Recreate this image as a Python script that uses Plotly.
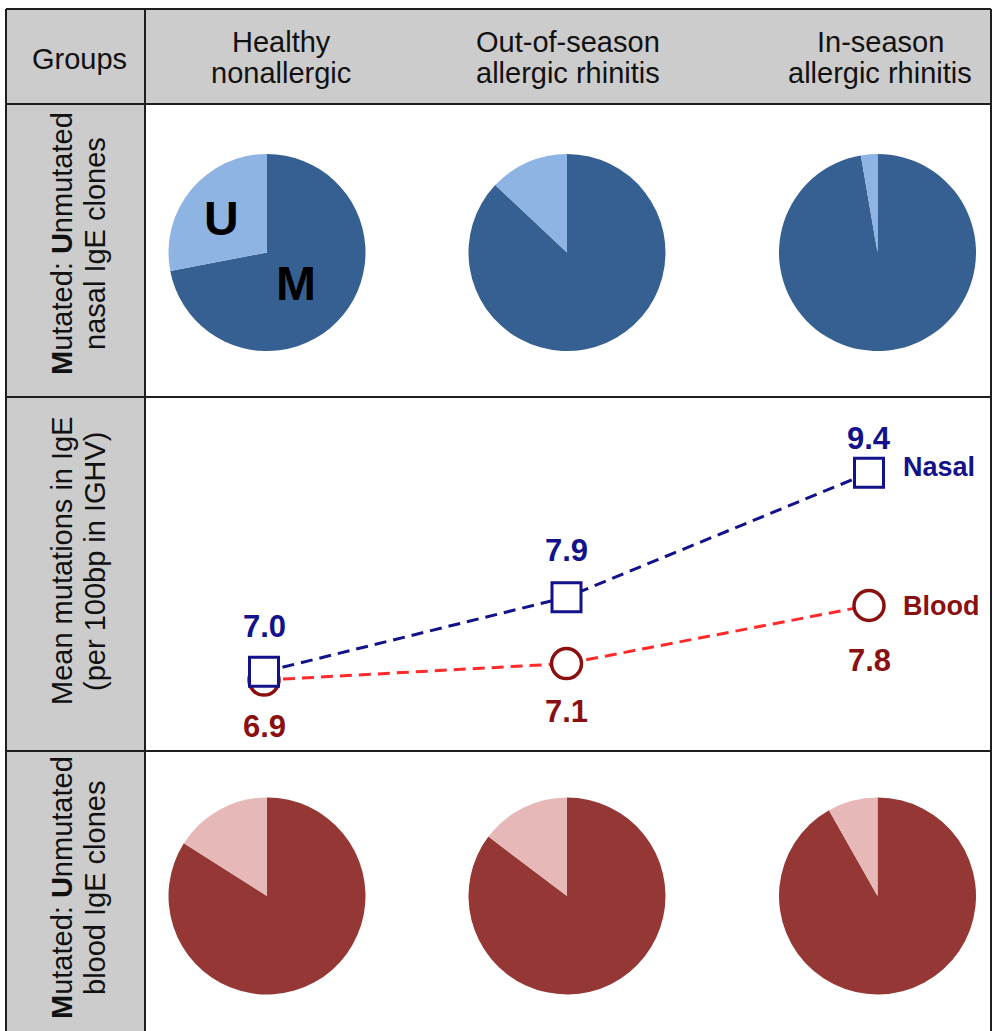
import plotly.graph_objects as go

# ---------------- data ----------------
group_line1 = ["Healthy", "Out-of-season", "In-season"]
group_line2 = ["nonallergic", "allergic rhinitis", "allergic rhinitis"]

nasal_mutated_pct = [72.0, 87.0, 97.3]
nasal_unmutated_pct = [28.0, 13.0, 2.7]
blood_mutated_pct = [84.0, 85.3, 91.8]
blood_unmutated_pct = [16.0, 14.7, 8.2]

nasal_mean = [7.0, 7.9, 9.4]
blood_mean = [6.9, 7.1, 7.8]

row_labels = [
    ["<b>M</b>utated: <b>U</b>nmutated", "nasal IgE clones"],
    ["Mean mutations in IgE", "(per 100bp in IGHV)"],
    ["<b>M</b>utated: <b>U</b>nmutated", "blood IgE clones"],
]
corner_label = "Groups"
series_names = ["Nasal", "Blood"]

# ---------------- layout helpers ----------------
W, H = 993, 1031
def px(x):
    return x / W
def py(y):
    return 1 - y / H

FONT = "Liberation Sans, Arial, Helvetica, sans-serif"
GRAY = "#cccccc"
BORDER = "#1e1e1e"

NASAL_DARK, NASAL_LIGHT = "#366092", "#8DB4E2"
BLOOD_DARK, BLOOD_LIGHT = "#953735", "#E6B9B8"
NAVY = "#12128a"
DARKRED = "#8a1010"
BRIGHTRED = "#ff2a2a"

fig = go.Figure()

# ---------------- pies ----------------
pie_cx = [267, 567, 877.5]
pie_r = 98.5
rows = [
    (252.5, nasal_mutated_pct, nasal_unmutated_pct, NASAL_DARK, NASAL_LIGHT),
    (896.0, blood_mutated_pct, blood_unmutated_pct, BLOOD_DARK, BLOOD_LIGHT),
]
for cy, mut, unm, cd, cl in rows:
    for i, cx in enumerate(pie_cx):
        fig.add_trace(go.Pie(
            values=[mut[i], unm[i]],
            labels=["M", "U"],
            sort=False,
            direction="clockwise",
            rotation=0,
            textinfo="none",
            hoverinfo="none",
            showlegend=False,
            marker=dict(colors=[cd, cl], line=dict(width=0)),
            domain=dict(x=[px(cx - pie_r), px(cx + pie_r)],
                        y=[py(cy + pie_r), py(cy - pie_r)]),
        ))

# ---------------- line chart ----------------
xi = list(range(len(nasal_mean)))
fig.add_trace(go.Scatter(
    x=xi, y=blood_mean, mode="lines+markers", showlegend=False, hoverinfo="none",
    line=dict(color=BRIGHTRED, width=3, dash="12px,7px"),
    marker=dict(symbol="circle", size=30, color="white",
                line=dict(color=DARKRED, width=3.5)),
))
fig.add_trace(go.Scatter(
    x=xi, y=nasal_mean, mode="lines+markers", showlegend=False, hoverinfo="none",
    line=dict(color=NAVY, width=3, dash="12px,7px"),
    marker=dict(symbol="square", size=29, color="white",
                line=dict(color=NAVY, width=3)),
))

x_left_px, x_right_px = 145, 991
x0_px, step_px = 264, 302.5
y_top_px, y_bot_px = 397, 751
fig.update_xaxes(domain=[px(x_left_px), px(x_right_px)],
                 range=[(x_left_px - x0_px) / step_px, (x_right_px - x0_px) / step_px],
                 visible=False, fixedrange=True)
fig.update_yaxes(domain=[py(y_bot_px), py(y_top_px)],
                 range=[6.045, 10.315], visible=False, fixedrange=True)

annotations = []
def ann(**kw):
    kw.setdefault("showarrow", False)
    kw.setdefault("xanchor", "center")
    kw.setdefault("yanchor", "middle")
    annotations.append(kw)

nasal_shift = [45, 47, 34]
blood_shift = [-46, -48, -55]
for i in xi:
    ann(x=i, y=nasal_mean[i], xref="x", yref="y",
        text=f"<b>{nasal_mean[i]:.1f}</b>", yshift=nasal_shift[i],
        font=dict(family=FONT, size=31, color=NAVY))
    ann(x=i, y=blood_mean[i], xref="x", yref="y",
        text=f"<b>{blood_mean[i]:.1f}</b>", yshift=blood_shift[i],
        font=dict(family=FONT, size=31, color=DARKRED))
ann(x=xi[-1], y=nasal_mean[-1], xref="x", yref="y",
    text=f"<b>{series_names[0]}</b>", xanchor="left", xshift=32, yshift=6,
    font=dict(family=FONT, size=27, color=NAVY))
ann(x=xi[-1], y=blood_mean[-1], xref="x", yref="y",
    text=f"<b>{series_names[1]}</b>", xanchor="left", xshift=32, yshift=0,
    font=dict(family=FONT, size=27, color=DARKRED))

# ---------------- U / M labels on first nasal pie ----------------
ann(x=px(221), y=py(218), xref="paper", yref="paper", text="<b>U</b>",
    font=dict(family=FONT, size=48, color="black"))
ann(x=px(296), y=py(284), xref="paper", yref="paper", text="<b>M</b>",
    font=dict(family=FONT, size=48, color="black"))

# ---------------- header texts ----------------
ann(x=px(79), y=py(59), xref="paper", yref="paper", text=corner_label,
    font=dict(family=FONT, size=29, color="#111"))
header_cx = [281, 568, 880]
for i, cx in enumerate(header_cx):
    ann(x=px(cx), y=py(42), xref="paper", yref="paper", text=group_line1[i],
        font=dict(family=FONT, size=29, color="#111"))
    ann(x=px(cx), y=py(73), xref="paper", yref="paper", text=group_line2[i],
        font=dict(family=FONT, size=29, color="#111"))

# ---------------- row label texts (rotated) ----------------
row_cy = [244, 561, 888]
line_cx = [62, 95]
for r, cy in enumerate(row_cy):
    for j in range(2):
        ann(x=px(line_cx[j]), y=py(cy), xref="paper", yref="paper",
            text=row_labels[r][j], textangle=-90,
            font=dict(family=FONT, size=29, color="#111"))

# ---------------- table shapes ----------------
shapes = []
L, R, T, B = 6, 991, 9, 1045
colx = 145
row_y = [104, 397, 751]
shapes.append(dict(type="rect", xref="paper", yref="paper", layer="below",
                   x0=px(L), x1=px(R), y0=py(row_y[0]), y1=py(T),
                   fillcolor=GRAY, line=dict(width=0)))
shapes.append(dict(type="rect", xref="paper", yref="paper", layer="below",
                   x0=px(L), x1=px(colx), y0=py(B), y1=py(row_y[0]),
                   fillcolor=GRAY, line=dict(width=0)))
def hline(y, x0=L, x1=R):
    shapes.append(dict(type="line", xref="paper", yref="paper", layer="above",
                       x0=px(x0), x1=px(x1), y0=py(y), y1=py(y),
                       line=dict(color=BORDER, width=2)))
def vline(x, y0=T, y1=B):
    shapes.append(dict(type="line", xref="paper", yref="paper", layer="above",
                       x0=px(x), x1=px(x), y0=py(y0), y1=py(y1),
                       line=dict(color=BORDER, width=2)))
hline(T)
for y in row_y:
    hline(y)
vline(L)
vline(colx)
vline(R)

fig.update_layout(
    width=W, height=H,
    margin=dict(l=0, r=0, t=0, b=0),
    paper_bgcolor="white",
    plot_bgcolor="rgba(0,0,0,0)",
    showlegend=False,
    annotations=annotations,
    shapes=shapes,
)

fig.write_html("out.html", config={"displayModeBar": False, "staticPlot": True})
